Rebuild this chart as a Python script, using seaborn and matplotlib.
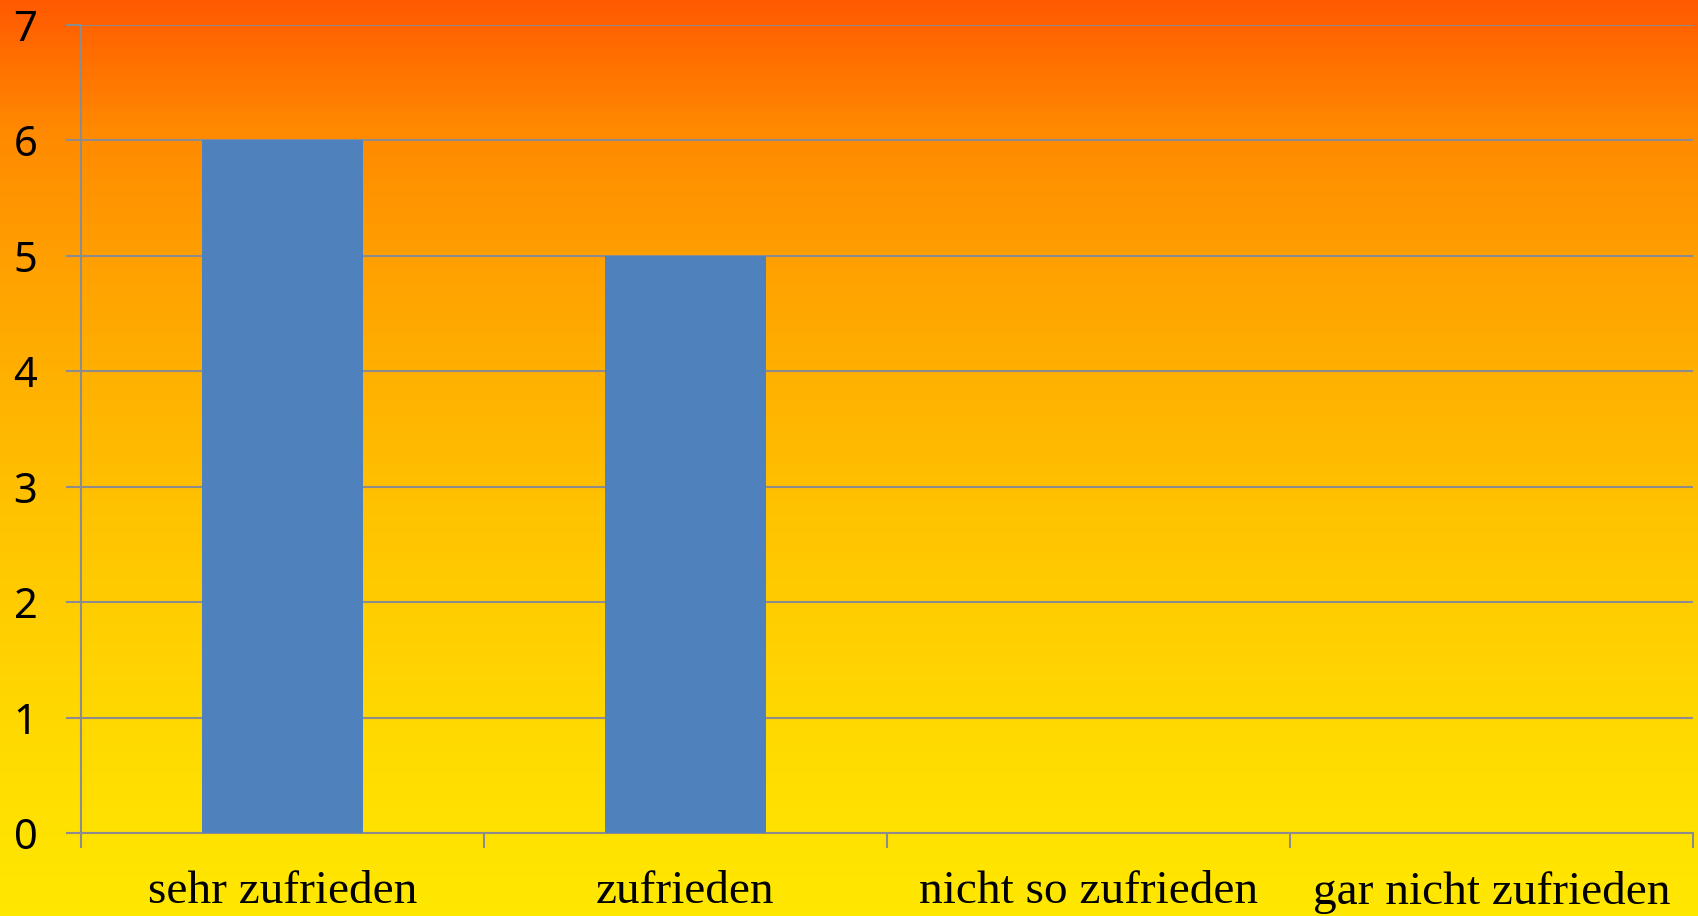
import numpy as np
import pandas as pd
import matplotlib
matplotlib.use("Agg")
import matplotlib.pyplot as plt
from matplotlib.colors import LinearSegmentedColormap
from matplotlib.ticker import FixedLocator
import seaborn as sns

# data
categories = ["sehr zufrieden", "zufrieden", "nicht so zufrieden", "gar nicht zufrieden"]
counts = [6, 5, 0, 0]
y_ticks = [0, 1, 2, 3, 4, 5, 6, 7]

# background gradient stops (top -> bottom)
gradient_stops = ["#FF5A00", "#FF8A00", "#FFA000", "#FFB300", "#FFC400", "#FFD200", "#FFDE00", "#FFE800"]

df = pd.DataFrame({"category": categories, "count": counts})

sns.set_theme(style="white")
plt.rcParams["font.family"] = ["Liberation Serif", "DejaVu Serif"]

fig = plt.figure(figsize=(16.98, 9.16), dpi=100)

# gradient background over the whole figure
bg = fig.add_axes([0, 0, 1, 1], zorder=-1)
cmap = LinearSegmentedColormap.from_list("bg", gradient_stops)
bg.imshow(np.linspace(0, 1, 256).reshape(-1, 1), aspect="auto", cmap=cmap,
          extent=[0, 1, 0, 1], origin="upper")
bg.set_axis_off()

ax = fig.add_axes([81 / 1698, 1 - 833 / 916, (1693 - 81) / 1698, (833 - 25) / 916])
ax.set_facecolor("none")

sns.barplot(data=df, x="category", y="count", color="#4F81BD", saturation=1,
            width=0.4, linewidth=0, ax=ax, zorder=3)

grey = "#8C8C8C"
ax.set_ylim(0, 7)
ax.set_xlim(-0.5, len(categories) - 0.5)
ax.set_yticks(y_ticks)
ax.yaxis.grid(True, color=grey, linewidth=1.5, zorder=0)
ax.set_axisbelow(True)

for side in ["top", "right"]:
    ax.spines[side].set_visible(False)
for side in ["left", "bottom"]:
    ax.spines[side].set_color(grey)
    ax.spines[side].set_linewidth(1.5)

ax.set_xlabel("")
ax.set_ylabel("")

# tick marks between categories, labels centred
ax.xaxis.set_minor_locator(FixedLocator(np.arange(-0.5, len(categories), 1.0)))
ax.tick_params(axis="x", which="minor", bottom=True, length=11, width=1.5, color=grey)
ax.tick_params(axis="x", which="major", bottom=True, length=0, pad=27, labelsize=34,
               labelcolor="black")
ax.tick_params(axis="y", which="major", left=True, length=11, width=1.5, color=grey,
               pad=20.5, labelsize=30, labelcolor="black")
for lbl in ax.get_yticklabels():
    lbl.set_family(["Noto Sans", "DejaVu Sans"])

fig.savefig("out.png", dpi=100)
